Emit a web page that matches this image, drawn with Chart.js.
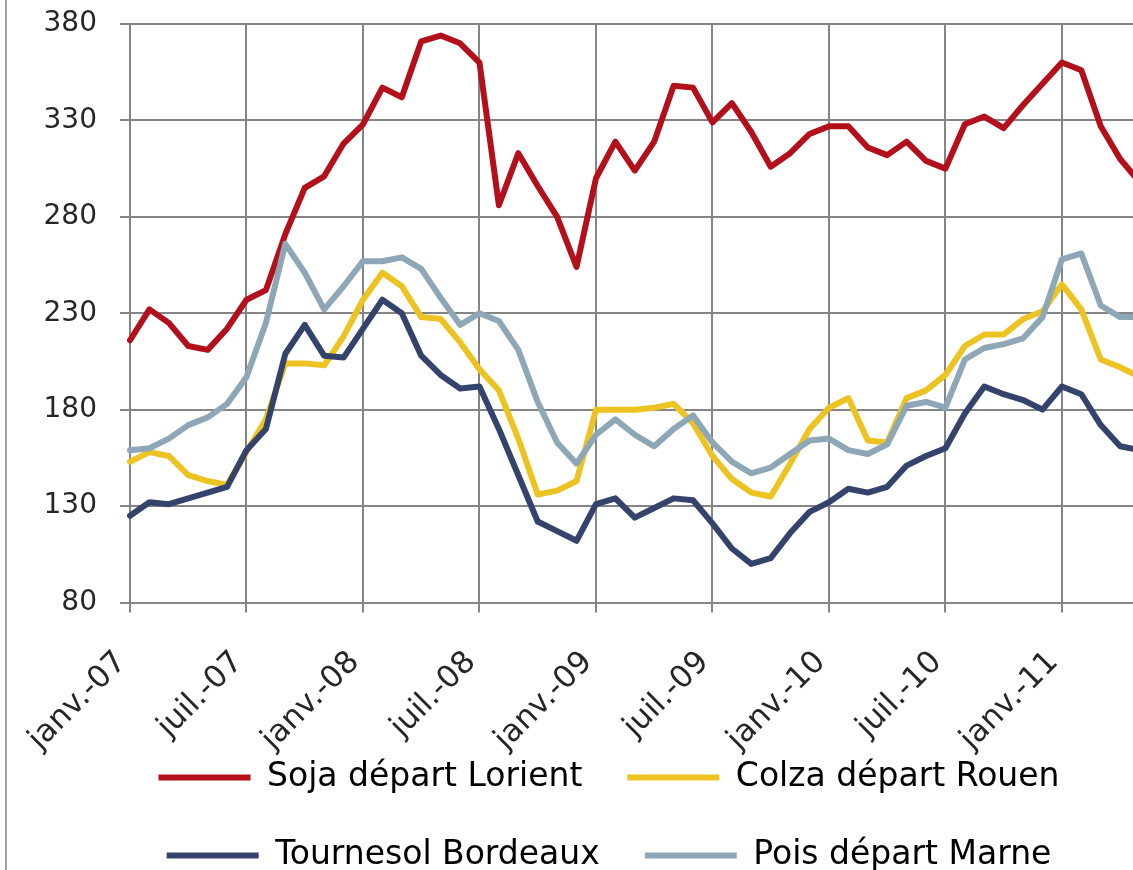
<!DOCTYPE html>
<html>
<head>
<meta charset="utf-8">
<script src="https://cdn.jsdelivr.net/npm/chart.js@4.4.1/dist/chart.umd.min.js"></script>
<style>
html, body { margin: 0; padding: 0; background: #ffffff; overflow: hidden; width: 1133px; height: 870px; }
#wrap { position: absolute; left: 0; top: 0; width: 1218px; height: 882px; }
#frame { position: absolute; left: 5px; top: 0; width: 2px; height: 870px; background: #a0a0a0; z-index: 2; }
</style>
</head>
<body>
<div id="frame"></div>
<div id="wrap"><canvas id="c" width="1218" height="882"></canvas></div>
<script>
// Month names (French Excel abbreviations) and years of the category axis
const monthNames = ['janv.', 'févr.', 'mars', 'avr.', 'mai', 'juin', 'juil.', 'août', 'sept.', 'oct.', 'nov.', 'déc.'];
const years = ['07', '08', '09', '10', '11'];
const monthCount = 54; // janv.-07 .. juin-11 (the right part is cut off in the picture)

// Series values (€/t), monthly from janv.-07
const soja = [216, 232, 225, 213, 211, 222, 237, 242, 271, 295, 301, 318, 328,
              347, 342, 371, 374, 370, 360, 286, 313, 296, 280, 254, 300,
              319, 304, 319, 348, 347, 329, 339, 324, 306, 313, 323, 327,
              327, 316, 312, 319, 309, 305, 328, 332, 326, 338, 349, 360,
              356, 327, 310, 298];
const colza = [153, 158, 156, 146, 143, 141, 158, 175, 204, 204, 203, 218, 237,
               251, 244, 228, 227, 215, 201, 190, 165, 136, 138, 143, 180,
               180, 180, 181, 183, 173, 156, 144, 137, 135, 152, 170, 181,
               186, 164, 163, 186, 190, 198, 213, 219, 219, 227, 231, 245,
               232, 206, 202, 197];
const tournesol = [125, 132, 131, 134, 137, 140, 159, 170, 209, 224, 208, 207, 222,
                   237, 230, 208, 198, 191, 192, 170, 146, 122, 117, 112, 131,
                   134, 124, 129, 134, 133, 121, 108, 100, 103, 116, 127, 132,
                   139, 137, 140, 151, 156, 160, 178, 192, 188, 185, 180, 192,
                   188, 172, 161, 159];
const pois = [159, 160, 165, 172, 176, 183, 197, 225, 266, 251, 232, 244, 257,
              257, 259, 253, 238, 224, 230, 226, 211, 184, 163, 152, 167,
              175, 167, 161, 170, 177, 163, 153, 147, 150, 157, 164, 165,
              159, 157, 162, 182, 184, 181, 206, 212, 214, 217, 228, 258,
              261, 234, 228, 228];

const seriesNames = ['Soja départ Lorient', 'Colza départ Rouen', 'Tournesol Bordeaux', 'Pois départ Marne'];
const seriesColors = ['#B3101B', '#EDC321', '#34436B', '#8EA7B6'];

// Y axis tick range
const yMin = 80, yMax = 380, yStep = 50;

const categories = [];
for (const y of years) for (const m of monthNames) categories.push(m + '-' + y);
categories.length = monthCount;

const seriesValues = [soja, colza, tournesol, pois];
const drawOrder = [4, 3, 2, 1];

const datasets = seriesValues.map((vals, k) => ({
  label: seriesNames[k],
  data: vals,
  borderColor: seriesColors[k],
  backgroundColor: seriesColors[k],
  borderWidth: 6,
  borderJoinStyle: 'round',
  borderCapStyle: 'round',
  pointRadius: 0,
  tension: 0,
  fill: false,
  order: drawOrder[k]
}));

const gridColor = '#858585';
const textColor = '#262626';

new Chart(document.getElementById('c'), {
  type: 'line',
  data: { labels: categories, datasets },
  options: {
    responsive: false,
    animation: false,
    devicePixelRatio: 1,
    layout: { padding: { top: 24, left: 0, right: 0, bottom: 0 } },
    plugins: {
      tooltip: { enabled: false },
      legend: {
        position: 'bottom',
        align: 'center',
        labels: {
          font: { family: 'DejaVu Sans', size: 33 },
          color: textColor,
          boxWidth: 92,
          boxHeight: 6,
          padding: 45,
          sort: (a, b) => a.datasetIndex - b.datasetIndex,
          generateLabels: (chart) => chart.data.datasets.map((ds, i) => ({
            text: ds.label,
            fillStyle: ds.borderColor,
            strokeStyle: ds.borderColor,
            lineWidth: 0,
            hidden: false,
            datasetIndex: i
          }))
        }
      }
    },
    scales: {
      x: {
        type: 'category',
        offset: false,
        grid: { color: gridColor, lineWidth: 2, tickLength: 10, drawTicks: true },
        border: { color: gridColor, width: 2 },
        afterFit: (scale) => { scale.height = 113.5; scale.paddingRight = 0; },
        ticks: {
          autoSkip: false,
          maxRotation: 45,
          minRotation: 45,
          mirror: true,
          padding: -68,
          labelOffset: 18,
          color: textColor,
          font: { family: 'DejaVu Sans', size: 31 },
          callback: function (value, index) {
            return index % 6 === 0 ? this.getLabelForValue(value) : null;
          }
        }
      },
      y: {
        min: yMin,
        max: yMax,
        grid: { color: gridColor, lineWidth: 2, tickLength: 10, drawTicks: true },
        border: { color: gridColor, width: 2 },
        afterFit: (scale) => { scale.width = 130; scale.paddingTop = 0; scale.paddingBottom = 0; },
        ticks: {
          stepSize: yStep,
          padding: 23,
          color: textColor,
          font: { family: 'DejaVu Sans', size: 28 }
        }
      },
      yRight: {
        position: 'right',
        display: true,
        grid: { display: false },
        border: { display: false },
        ticks: { display: false },
        afterFit: (scale) => { scale.width = 59; }
      }
    }
  }
});
</script>
</body>
</html>
